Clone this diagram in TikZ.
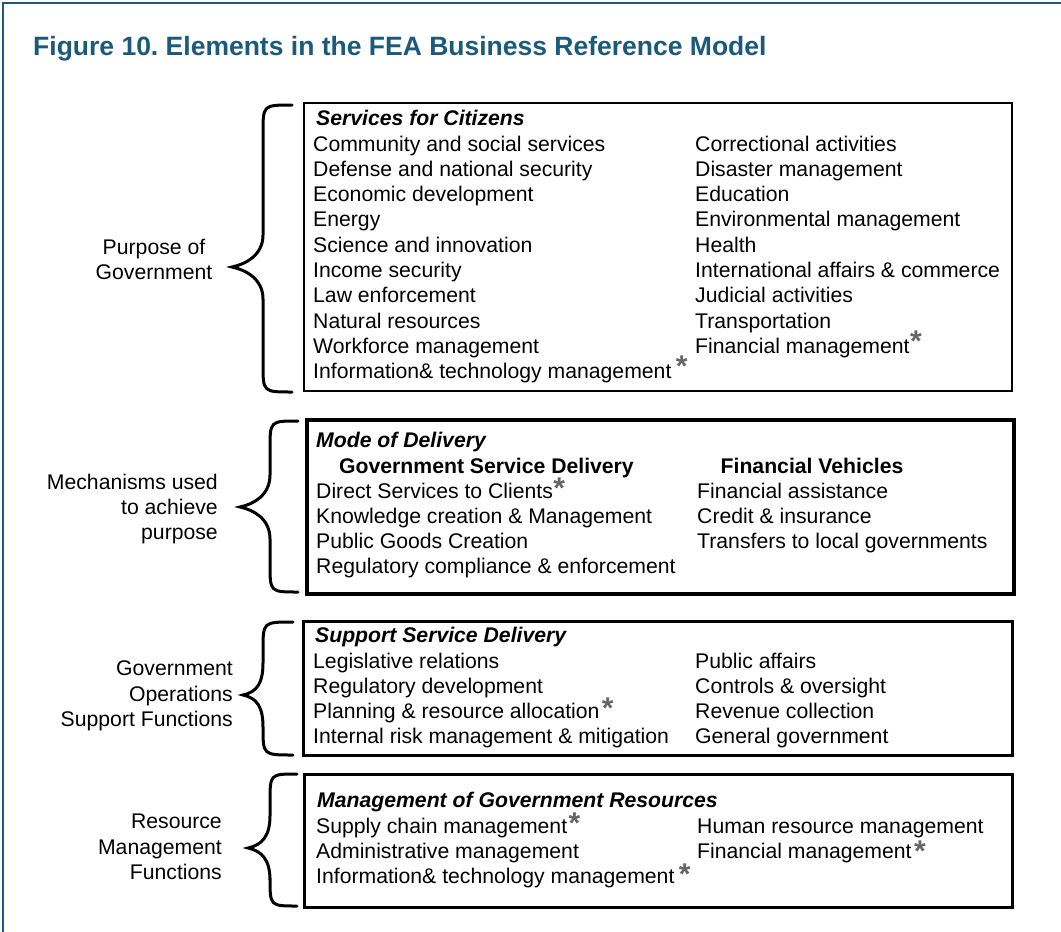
\documentclass[tikz,border=0pt]{standalone}
\usepackage{fontspec}
\setmainfont{Liberation Sans}
\usepackage{tikz}
\usetikzlibrary{positioning}
\definecolor{feablue}{HTML}{1C5A7C}
\definecolor{stargray}{HTML}{666666}
\frenchspacing
\tikzset{%
	item/.style    = {anchor=base west, inner sep=0pt, font=\fontsize{21.2}{25.3}\selectfont},
	head/.style    = {item, font=\fontsize{21.2}{25.3}\selectfont\bfseries\itshape},
	subhead/.style = {anchor=base, inner sep=0pt, font=\fontsize{21.2}{25.3}\selectfont\bfseries},
	side/.style    = {inner sep=0pt, align=right, font=\fontsize{21.2}{25.3}\selectfont},
	group/.style   = {draw, rectangle, anchor=north west, inner sep=0pt},
	curly/.style   = {line width=3pt, line cap=round},
	star/.style    = {anchor=base west, inner sep=0pt, text=stargray, font=\fontsize{30}{30}\selectfont\bfseries},
}
\newcommand{\curlybrace}[6]{\draw[curly] (#1,#2) .. controls (#4,#2) .. (#4,#2+28) -- (#4,#6-32) .. controls (#4,#6-12) and (#5+14,#6-3) .. (#5,#6) .. controls (#5+14,#6+3) and (#4,#6+12) .. (#4,#6+32) -- (#4,#3-28) .. controls (#4,#3) .. (#1,#3);}

\begin{document}
\begin{tikzpicture}[x=1pt,y=-1pt]
	\useasboundingbox (0,0) rectangle (1061,932);
	\draw[feablue, line width=2pt] (3,3) rectangle (1080,950);
	\node[anchor=base west, inner sep=0pt, text=feablue, font=\fontsize{26.5}{30}\selectfont\bfseries] (title) at (33,55) {Figure 10. Elements in the FEA Business Reference Model};
	
	% the four groups
	\node[group, line width=2pt, minimum width=708, minimum height=288] (citizens) at (303,102) {};
	\node[group, line width=3.5pt, minimum width=707, minimum height=174] (delivery) at (305,418) {};
	\node[group, line width=3pt, minimum width=709, minimum height=134] (support) at (302,620) {};
	\node[group, line width=3pt, minimum width=708, minimum height=133] (resources) at (303,773) {};
	
	\curlybrace{292}{105}{392}{263}{232}{267}
	\curlybrace{298}{421}{592}{270}{240}{507}
	\curlybrace{293}{622}{755}{263}{243}{695}
	\curlybrace{297}{774}{906}{270}{248}{848}
	
	\node[side, align=center] (purpose) at (154,259.5) {Purpose of\\Government};
	\node[side, anchor=east] (mech) at (218,509) {Mechanisms used\\to achieve\\purpose};
	\node[side, anchor=east] (ops) at (233,696) {Government\\Operations\\Support Functions};
	\node[side, anchor=east] (resfn) at (222,847) {Resource\\Management\\Functions};
	
	% services for citizens
	\node[head] (hcit) at (316,125) {Services for Citizens};
	\foreach \t [count=\i] in {Community and social services,Defense and national security,Economic development,Energy,Science and innovation,Income security,Law enforcement,Natural resources,Workforce management,Information\& technology management} \node[item] (pl\i) at (313,125.7+25.3*\i) {\t};
	\foreach \t [count=\i] in {Correctional activities,Disaster management,Education,Environmental management,Health,International affairs \& commerce,Judicial activities,Transportation,Financial management} \node[item] (pr\i) at (695,125.7+25.3*\i) {\t};
	
	% mode of delivery
	\node[head] (hmode) at (316,447) {Mode of Delivery};
	\node[subhead] (gsd) at (486.5,473) {Government Service Delivery};
	\node[subhead] (fv) at (812,473) {Financial Vehicles};
	\foreach \t [count=\i] in {Direct Services to Clients,Knowledge creation \& Management,Public Goods Creation,Regulatory compliance \& enforcement} \node[item] (dl\i) at (316,472.7+25.3*\i) {\t};
	\foreach \t [count=\i] in {Financial assistance,Credit \& insurance,Transfers to local governments} \node[item] (dr\i) at (697,472.7+25.3*\i) {\t};
	
	% support service delivery
	\node[head] (hsup) at (315,642) {Support Service Delivery};
	\foreach \t [count=\i] in {Legislative relations,Regulatory development,Planning \& resource allocation,Internal risk management \& mitigation} \node[item] (sl\i) at (313,642.7+25.3*\i) {\t};
	\foreach \t [count=\i] in {Public affairs,Controls \& oversight,Revenue collection,General government} \node[item] (sr\i) at (695,642.7+25.3*\i) {\t};
	
	% management of government resources
	\node[head] (hman) at (317,807) {Management of Government Resources};
	\foreach \t [count=\i] in {Supply chain management,Administrative management,Information\& technology management} \node[item] (ml\i) at (316,807.7+25.3*\i) {\t};
	\foreach \t [count=\i] in {Human resource management,Financial management} \node[item] (mr\i) at (697,807.7+25.3*\i) {\t};
	
	% asterisks
	\node[star] (st1) at ([xshift=4pt,yshift=2pt]pl10.base east) {*};
	\node[star] (st2) at ([xshift=0pt,yshift=2pt]pr9.base east) {*};
	\node[star] (st3) at ([xshift=0pt]dl1.base east) {*};
	\node[star] (st4) at ([xshift=2pt]sl3.base east) {*};
	\node[star] (st5) at ([xshift=1pt]ml1.base east) {*};
	\node[star] (st6) at ([xshift=2pt,yshift=-3pt]mr2.base east) {*};
	\node[star] (st7) at ([xshift=4pt,yshift=-1pt]ml3.base east) {*};
\end{tikzpicture}
\end{document}
